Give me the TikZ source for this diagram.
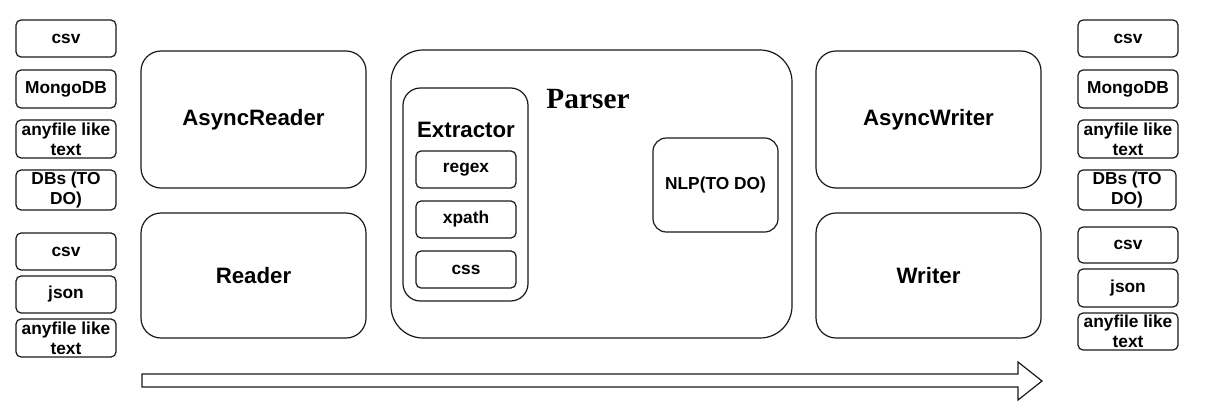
\documentclass[tikz,border=0pt]{standalone}
\usepackage{fontspec}
\setmainfont{Liberation Sans}
\newfontfamily\parserfont{Liberation Serif}
\newcommand{\pbox}[7][]{%
  \node[#1, minimum width={(#5-#3)*0.75pt}, minimum height={(#6-#4)*0.75pt}]
    (#2) at ({(#3+#5)/2},{(#4+#6)/2}) {#7};}
\begin{document}
\begin{tikzpicture}[x=0.75pt,y=-0.75pt,
  lw/.style={line width=0.9pt, draw=black!90},
  smallbox/.style={lw, rounded corners=3.8pt, inner sep=0pt, align=center,
    font=\fontsize{13}{15}\selectfont\bfseries},
  bigbox/.style={lw, rounded corners=15pt, inner sep=0pt,
    font=\fontsize{16.7}{20}\selectfont\bfseries},
  bigtext/.style={inner sep=0pt, font=\fontsize{16.7}{20}\selectfont\bfseries},
]
\useasboundingbox (0,0) rectangle (1205,407);

% left column
\pbox[smallbox]{l1}{16}{20}{116}{57}{csv}
\pbox[smallbox]{l2}{16}{70}{116}{108}{MongoDB}
\pbox[smallbox]{l3}{16}{120}{116}{158}{anyfile like\\text}
\pbox[smallbox]{l4}{16}{170}{116}{210}{DBs (TO\\DO)}
\pbox[smallbox]{l5}{16}{233}{116}{270}{csv}
\pbox[smallbox]{l6}{16}{276}{116}{313}{json}
\pbox[smallbox]{l7}{16}{319}{116}{357}{anyfile like\\text}

% readers
\pbox[bigbox]{ar}{141}{51}{366}{188}{AsyncReader}
\pbox[bigbox]{rd}{141}{213}{366}{338}{Reader}

% parser
\pbox[lw, rounded corners=24pt, inner sep=0pt]{parser}{391}{50}{792}{338}{}
\node[anchor=base, inner sep=0pt, font=\fontsize{22}{26}\selectfont\bfseries\parserfont] (ptitle) at (588,108) {Parser};
\pbox[lw, rounded corners=13pt, inner sep=0pt]{ext}{403}{88}{528}{301}{}
\node[bigtext, anchor=base] (exttitle) at (466,137) {Extractor};
\pbox[smallbox]{rx}{416}{151}{516}{188}{regex}
\pbox[smallbox]{xp}{416}{201}{516}{238}{xpath}
\pbox[smallbox]{cs}{416}{251}{516}{288}{css}
\pbox[smallbox, rounded corners=10pt]{nlp}{653}{138}{778}{232}{NLP(TO DO)}

% writers
\pbox[bigbox]{aw}{816}{51}{1041}{188}{AsyncWriter}
\pbox[bigbox]{wr}{816}{213}{1041}{338}{Writer}

% right column
\pbox[smallbox]{r1}{1078}{20}{1178}{57}{csv}
\pbox[smallbox]{r2}{1078}{70}{1178}{108}{MongoDB}
\pbox[smallbox]{r3}{1078}{120}{1178}{158}{anyfile like\\text}
\pbox[smallbox]{r4}{1078}{170}{1176}{210}{DBs (TO\\DO)}
\pbox[smallbox]{r5}{1078}{227}{1178}{263}{csv}
\pbox[smallbox]{r6}{1078}{269}{1178}{307}{json}
\pbox[smallbox]{r7}{1078}{313}{1178}{350}{anyfile like\\text}

% block arrow
\draw[lw] (142,374) -- (1018,374) -- (1018,362) -- (1042,381) -- (1018,400)
  -- (1018,387) -- (142,387) -- cycle;
\end{tikzpicture}
\end{document}
